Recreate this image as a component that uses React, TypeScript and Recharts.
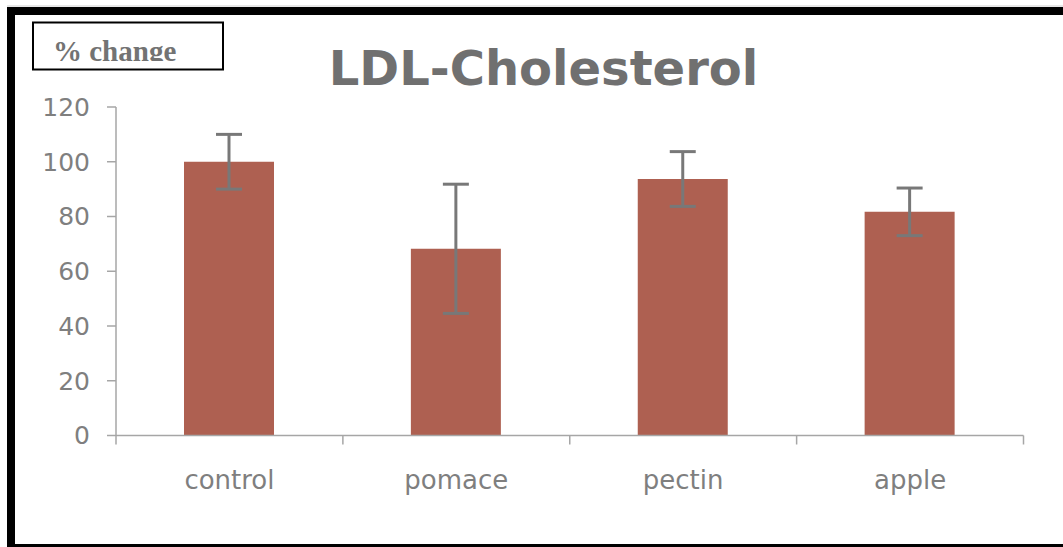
import { BarChart, Bar, XAxis, YAxis, ErrorBar } from "recharts";

const categories = ["control", "pomace", "pectin", "apple"];
const ldlChange = [100, 68.2, 93.7, 81.7];
const ldlError = [10, 23.6, 10, 8.7];
const yTicks = [0, 20, 40, 60, 80, 100, 120];

const BAR_COLOR = "#ae6051";
const AXIS_GREY = "#a6a6a6";
const TEXT_GREY = "#7f7f7f";
const LABEL_GAP = 35; // axis line -> top of category label
const TICK_LEN = 9;

const rows = categories.map((name, i) => ({
  name,
  value: ldlChange[i],
  err: ldlError[i],
}));

// category label plus the tick marks on the category boundaries (Excel style)
function CategoryTick(props: any) {
  const { x, y, payload, index, width } = props;
  const band = width / categories.length;
  const axisY = y - LABEL_GAP;
  const left = x - band / 2;
  const right = x + band / 2;
  return (
    <g>
      <line x1={left} x2={left} y1={axisY} y2={axisY + TICK_LEN} stroke={AXIS_GREY} strokeWidth={1.5} />
      {index === categories.length - 1 && (
        <line x1={right} x2={right} y1={axisY} y2={axisY + TICK_LEN} stroke={AXIS_GREY} strokeWidth={1.5} />
      )}
      <text
        x={x}
        y={y}
        dy="0.71em"
        textAnchor="middle"
        fill={TEXT_GREY}
        fontSize={26}
        fontFamily="DejaVu Sans"
      >
        {payload.value}
      </text>
    </g>
  );
}

export default function App() {
  return (
    <div style={{ position: "absolute", left: 0, top: 0, width: 1063, height: 547, background: "#fff" }}>
      <BarChart
        width={1063}
        height={547}
        data={rows}
        margin={{ top: 107, right: 39.5, bottom: 51.5, left: 0 }}
      >
        <XAxis
          dataKey="name"
          tickLine={false}
          tickSize={0}
          tickMargin={LABEL_GAP}
          axisLine={{ stroke: AXIS_GREY, strokeWidth: 1.5 }}
          tick={<CategoryTick />}
          height={60}
          interval={0}
        />
        <YAxis
          domain={[0, 120]}
          ticks={yTicks}
          width={116}
          tickSize={TICK_LEN}
          tickMargin={17}
          axisLine={{ stroke: AXIS_GREY, strokeWidth: 1.5 }}
          tickLine={{ stroke: AXIS_GREY, strokeWidth: 1.5 }}
          tick={{ fill: TEXT_GREY, fontSize: 25, fontFamily: "DejaVu Sans" }}
        />
        <Bar dataKey="value" fill={BAR_COLOR} barSize={90} isAnimationActive={false}>
          <ErrorBar dataKey="err" width={13} strokeWidth={3} stroke="#787878" isAnimationActive={false} />
        </Bar>
      </BarChart>

      <svg
        width={1063}
        height={547}
        style={{ position: "absolute", left: 0, top: 0, pointerEvents: "none" }}
      >
        <defs>
          <clipPath id="labelClip">
            <rect x={32} y={22} width={192} height={39} />
          </clipPath>
        </defs>
        {/* frame */}
        <rect x={7} y={5.5} width={1056} height={1} fill="#d0d0d0" />
        <rect x={7} y={7} width={1056} height={8} fill="#000" />
        <rect x={7} y={7} width={8} height={540} fill="#000" />
        <rect x={7} y={544} width={1056} height={3} fill="#000" />
        {/* "% change" box */}
        <rect x={33} y={22.5} width={190} height={47} fill="none" stroke="#000" strokeWidth={2} />
        <text
          x={53}
          y={61}
          clipPath="url(#labelClip)"
          fontFamily="Liberation Serif"
          fontWeight="bold"
          fontSize={29}
          fill="#737373"
        >
          % change
        </text>
        <text
          x={543.5}
          y={85}
          textAnchor="middle"
          fontFamily="DejaVu Sans"
          fontWeight="bold"
          fontSize={48}
          fill="#707070"
        >
          LDL-Cholesterol
        </text>
      </svg>
    </div>
  );
}
